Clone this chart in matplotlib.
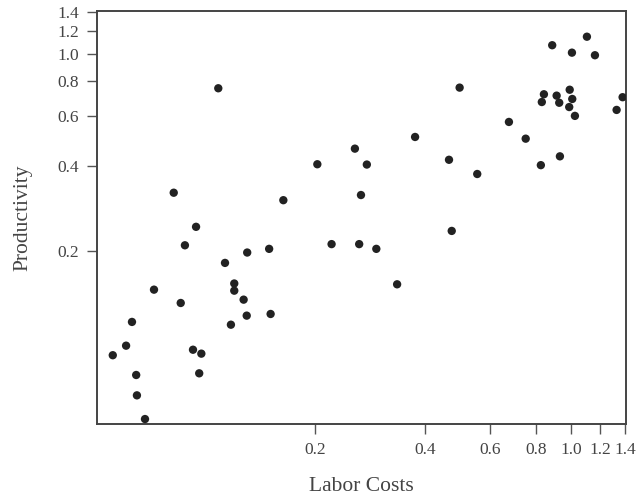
import matplotlib
matplotlib.use("Agg")
import matplotlib.pyplot as plt
from matplotlib.ticker import FixedLocator, FixedFormatter, NullLocator

labor_costs = [
    0.109, 0.0824, 0.0948, 0.0884, 0.164, 0.203, 0.150, 0.1307, 0.1137, 0.1205,
    0.1205, 0.1278, 0.1303, 0.1514, 0.118, 0.0728, 0.0861, 0.0634, 0.0611, 0.0562,
    0.093, 0.098, 0.0967, 0.0651, 0.0654, 0.0688, 1.103, 0.887, 1.004, 1.16,
    0.496, 0.842, 0.912, 0.990, 1.006, 0.831, 0.927, 0.987, 1.023, 1.38,
    1.329, 0.676, 0.751, 0.375, 0.257, 0.277, 0.464, 0.554, 0.931, 0.826,
    0.267, 0.472, 0.222, 0.264, 0.294, 0.335,
]
productivity = [
    0.753, 0.321, 0.243, 0.209, 0.302, 0.405, 0.203, 0.197, 0.181, 0.153,
    0.1443, 0.1341, 0.1177, 0.1193, 0.1093, 0.1455, 0.1305, 0.1118, 0.0921, 0.0852,
    0.0891, 0.0863, 0.0735, 0.0725, 0.0614, 0.0506, 1.147, 1.070, 1.007, 0.986,
    0.757, 0.717, 0.709, 0.744, 0.690, 0.673, 0.669, 0.646, 0.601, 0.700,
    0.631, 0.572, 0.499, 0.506, 0.460, 0.404, 0.420, 0.374, 0.432, 0.402,
    0.315, 0.235, 0.211, 0.211, 0.203, 0.152,
]
x_ticks = [0.2, 0.4, 0.6, 0.8, 1.0, 1.2, 1.4]
x_tick_labels = ["0.2", "0.4", "0.6", "0.8", "1.0", "1.2", "1.4"]
y_ticks = [0.2, 0.4, 0.6, 0.8, 1.0, 1.2, 1.4]
y_tick_labels = ["0.2", "0.4", "0.6", "0.8", "1.0", "1.2", "1.4"]

plt.rcParams['font.family'] = ['Liberation Serif', 'DejaVu Serif']

fig = plt.figure(figsize=(6.39, 4.97), dpi=100)
ax = fig.add_axes([0.1518, 0.1469, 0.9797 - 0.1518, 0.9779 - 0.1469])

ax.scatter(labor_costs, productivity, s=36, color="#222222", edgecolors="none", zorder=3)

ax.set_xscale("log")
ax.set_yscale("log")
ax.set_xlim(0.0509, 1.41)
ax.set_ylim(0.0486, 1.415)

ax.xaxis.set_major_locator(FixedLocator(x_ticks))
ax.xaxis.set_major_formatter(FixedFormatter(x_tick_labels))
ax.xaxis.set_minor_locator(NullLocator())
ax.yaxis.set_major_locator(FixedLocator(y_ticks))
ax.yaxis.set_major_formatter(FixedFormatter(y_tick_labels))
ax.yaxis.set_minor_locator(NullLocator())

ax.tick_params(axis="x", direction="out", length=7, width=1, color="#555555",
               labelsize=12.5, labelcolor="#444444", pad=6)
ax.tick_params(axis="y", direction="out", length=7, width=1, color="#555555",
               labelsize=12.5, labelcolor="#444444", pad=6)

for sp in ax.spines.values():
    sp.set_linewidth(1.4)
    sp.set_color("#444444")

ax.set_xlabel("Labor Costs", fontsize=15.5, color="#444444", labelpad=14)
ax.set_ylabel("Productivity", fontsize=15.5, color="#444444", labelpad=18)

fig.savefig("out.png", dpi=100, facecolor="white")
